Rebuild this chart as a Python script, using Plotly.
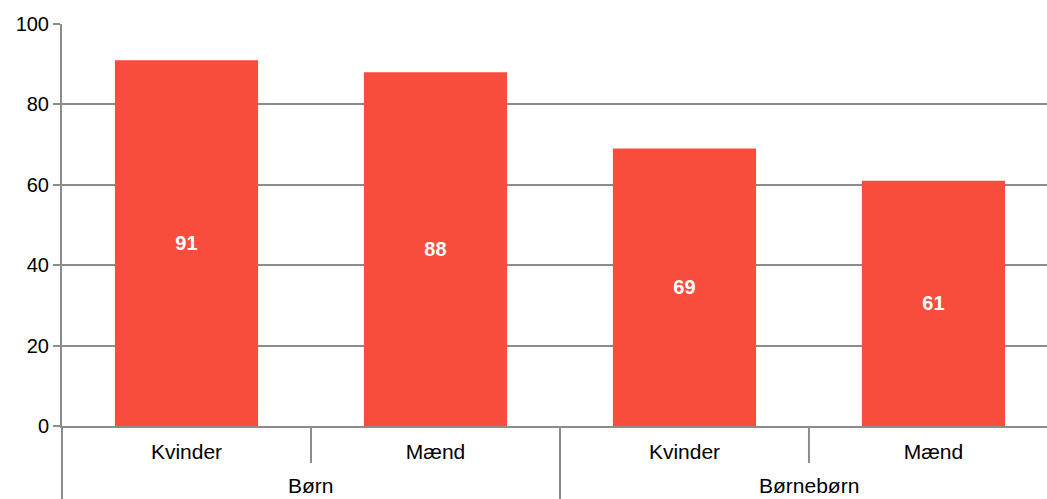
import plotly.graph_objects as go

groups = ["Børn", "Børn", "Børnebørn", "Børnebørn"]
genders = ["Kvinder", "Mænd", "Kvinder", "Mænd"]
values = [91, 88, 69, 61]
y_ticks = [0, 20, 40, 60, 80, 100]

FONT = "Liberation Sans, Arial"
GRID = "#8c8c8c"
W, H = 1047, 499
M = dict(l=62, r=0, t=24, b=73)
x_range = [-0.5, 3.456]
plot_h = H - M["t"] - M["b"]
bottom = -M["b"] / plot_h

idx = list(range(len(values)))

fig = go.Figure(go.Bar(
    x=idx,
    y=values,
    text=[str(v) for v in values],
    textposition="inside",
    insidetextanchor="middle",
    textfont=dict(color="white", size=20, family=FONT, weight="bold"),
    marker=dict(color="#F84C3C", line=dict(width=0)),
    width=0.575,
    hoverinfo="skip",
))


def px(v):
    return (v - x_range[0]) / (x_range[1] - x_range[0])


shapes = [dict(type="line", xref="paper", yref="paper", x0=0, x1=0, y0=0, y1=bottom,
               line=dict(color=GRID, width=2))]
annotations = []
# dividers between categories
for i in range(len(genders) - 1):
    same = groups[i] == groups[i + 1]
    shapes.append(dict(type="line", xref="paper", yref="paper",
                       x0=px(i + 0.5), x1=px(i + 0.5), y0=0,
                       y1=-0.092 if same else bottom,
                       line=dict(color=GRID, width=2)))
# group labels
seen = []
for g in groups:
    if g not in seen:
        seen.append(g)
for g in seen:
    members = [i for i, gg in enumerate(groups) if gg == g]
    center = sum(members) / len(members)
    annotations.append(dict(text=g, xref="paper", yref="paper", x=px(center),
                            y=-(485 - 426) / plot_h, yanchor="middle", xanchor="center",
                            showarrow=False, font=dict(size=21, color="black", family=FONT)))

fig.update_layout(
    width=W, height=H,
    margin=M,
    plot_bgcolor="white", paper_bgcolor="white",
    font=dict(family=FONT, size=20, color="black"),
    showlegend=False,
    shapes=shapes,
    annotations=annotations,
    xaxis=dict(
        range=x_range, automargin=False,
        tickvals=idx, ticktext=genders,
        showline=True, linecolor=GRID, linewidth=2,
        ticks="", ticklabelstandoff=6,
        tickfont=dict(size=21),
        showgrid=False, zeroline=False,
    ),
    yaxis=dict(
        range=[0, 100], tickvals=y_ticks, automargin=False,
        showline=True, linecolor=GRID, linewidth=2,
        showgrid=True, gridcolor=GRID, gridwidth=2,
        ticks="outside", ticklen=7, tickcolor=GRID, tickwidth=2,
        tickfont=dict(size=20),
        zeroline=False,
    ),
)

fig.write_html("out.html", config={"displayModeBar": False},
               post_script="document.body.style.margin='0px';")
